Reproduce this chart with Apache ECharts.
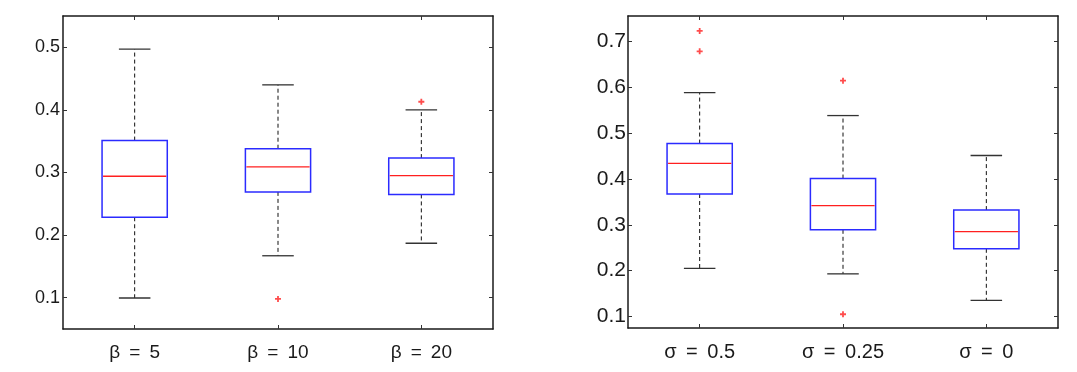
<!DOCTYPE html>
<html>
<head>
<meta charset="utf-8">
<script src="https://cdn.jsdelivr.net/npm/echarts@6/dist/echarts.min.js"></script>
<style>
  html, body { margin: 0; padding: 0; background: #fff; }
  #main { width: 1077px; height: 372px; }
</style>
</head>
<body>
<div id="main"></div>
<script>
// 左图：β
var betaCats = ['β \u2009=\u2009 5', 'β \u2009=\u2009 10', 'β \u2009=\u2009 20']
// [下须, Q1, 中位数, Q3, 上须]
var betaStats = [
  [0.0995, 0.2285, 0.294, 0.351, 0.497],
  [0.167, 0.269, 0.309, 0.338, 0.440],
  [0.187, 0.265, 0.295, 0.323, 0.400]
]
var betaOutliers = [[1, 0.098], [2, 0.413]]
var betaTicks = [0.1, 0.2, 0.3, 0.4, 0.5]

// 右图：σ
var sigmaCats = ['σ \u2009=\u2009 0.5', 'σ \u2009=\u2009 0.25', 'σ \u2009=\u2009 0']
var sigmaStats = [
  [0.205, 0.367, 0.4336, 0.477, 0.588],
  [0.193, 0.289, 0.3415, 0.4007, 0.538],
  [0.135, 0.2476, 0.285, 0.332, 0.451]
]
var sigmaOutliers = [[0, 0.7225], [0, 0.678], [1, 0.614], [1, 0.105]]
var sigmaTicks = [0.1, 0.2, 0.3, 0.4, 0.5, 0.6, 0.7]

var frame = { show: true, lineStyle: { color: '#1a1a1a', width: 1.5 } }
var textColor = '#1a1a1a'
var font = 'Liberation Sans, Arial, sans-serif'

// 画箱线：蓝框、红中位线、黑色虚线须
function renderBox(params, api) {
  var i = api.value(0)
  var lo = api.coord([i, api.value(1)])
  var q1 = api.coord([i, api.value(2)])
  var md = api.coord([i, api.value(3)])
  var q3 = api.coord([i, api.value(4)])
  var hi = api.coord([i, api.value(5)])
  var band = api.size([1, 0])[0]
  var bw = band * 0.455
  var cw = band * 0.22
  var cx = lo[0]
  var dash = { stroke: '#111', lineWidth: 1, lineDash: [4, 3] }
  var cap = { stroke: '#333', lineWidth: 1.3 }
  return {
    type: 'group',
    children: [
      { type: 'line', shape: { x1: cx, y1: q3[1], x2: cx, y2: hi[1] }, style: dash },
      { type: 'line', shape: { x1: cx, y1: q1[1], x2: cx, y2: lo[1] }, style: dash },
      { type: 'line', shape: { x1: cx - cw / 2, y1: hi[1], x2: cx + cw / 2, y2: hi[1] }, style: cap },
      { type: 'line', shape: { x1: cx - cw / 2, y1: lo[1], x2: cx + cw / 2, y2: lo[1] }, style: cap },
      { type: 'rect', shape: { x: cx - bw / 2, y: q3[1], width: bw, height: q1[1] - q3[1] },
        style: { fill: '#fff', stroke: '#2b2bff', lineWidth: 1.5 } },
      { type: 'line', shape: { x1: cx - bw / 2 + 1, y1: md[1], x2: cx + bw / 2 - 1, y2: md[1] },
        style: { stroke: '#ff2020', lineWidth: 1.3 } }
    ]
  }
}

function xAxes(cats, gridIndex, labelSize, margin) {
  return [
    {
      type: 'category', gridIndex: gridIndex, data: cats, position: 'bottom',
      axisLine: frame,
      axisTick: { show: true, inside: true, alignWithLabel: true, length: 4, lineStyle: { color: '#333' } },
      axisLabel: { color: textColor, fontSize: labelSize, fontFamily: font, margin: margin }
    },
    {
      type: 'category', gridIndex: gridIndex, data: cats, position: 'top',
      axisLine: frame,
      axisTick: { show: true, inside: true, alignWithLabel: true, length: 4, lineStyle: { color: '#333' } },
      axisLabel: { show: false }
    }
  ]
}

function yAxes(min, max, ticks, gridIndex, labelSize, margin) {
  return [
    {
      type: 'value', gridIndex: gridIndex, min: min, max: max, position: 'left',
      axisLine: frame, splitLine: { show: false },
      axisTick: { show: true, inside: true, length: 4, customValues: ticks, lineStyle: { color: '#333' } },
      axisLabel: { color: textColor, fontSize: labelSize, fontFamily: font, margin: margin, customValues: ticks }
    },
    {
      type: 'value', gridIndex: gridIndex, min: min, max: max, position: 'right',
      axisLine: frame, splitLine: { show: false },
      axisTick: { show: true, inside: true, length: 4, customValues: ticks, lineStyle: { color: '#333' } },
      axisLabel: { show: false, customValues: ticks }
    }
  ]
}

function boxSeries(stats, axisIdx) {
  return {
    type: 'custom',
    xAxisIndex: axisIdx, yAxisIndex: axisIdx,
    renderItem: renderBox,
    encode: { x: 0, y: [1, 2, 3, 4, 5] },
    data: stats.map(function (s, i) { return [i].concat(s) })
  }
}

function outlierSeries(points, axisIdx) {
  return {
    type: 'scatter',
    xAxisIndex: axisIdx, yAxisIndex: axisIdx,
    symbol: 'path://M3.5,0H6.5V3.5H10V6.5H6.5V10H3.5V6.5H0V3.5H3.5Z',
    symbolSize: 6,
    itemStyle: { color: '#ff2020' },
    data: points
  }
}

var chart = echarts.init(document.getElementById('main'))
chart.setOption({
  animation: false,
  backgroundColor: '#fff',
  grid: [
    { left: 63, top: 16, width: 430, height: 313 },
    { left: 628, top: 16, width: 430, height: 312 }
  ],
  xAxis: xAxes(betaCats, 0, 19, 14).concat(xAxes(sigmaCats, 1, 20, 14)),
  yAxis: yAxes(0.05, 0.55, betaTicks, 0, 18, 3).concat(yAxes(0.075, 0.755, sigmaTicks, 1, 21, 2)),
  series: [
    boxSeries(betaStats, 0),
    outlierSeries(betaOutliers, 0),
    boxSeries(sigmaStats, 2),
    outlierSeries(sigmaOutliers, 2)
  ]
})
</script>
</body>
</html>
